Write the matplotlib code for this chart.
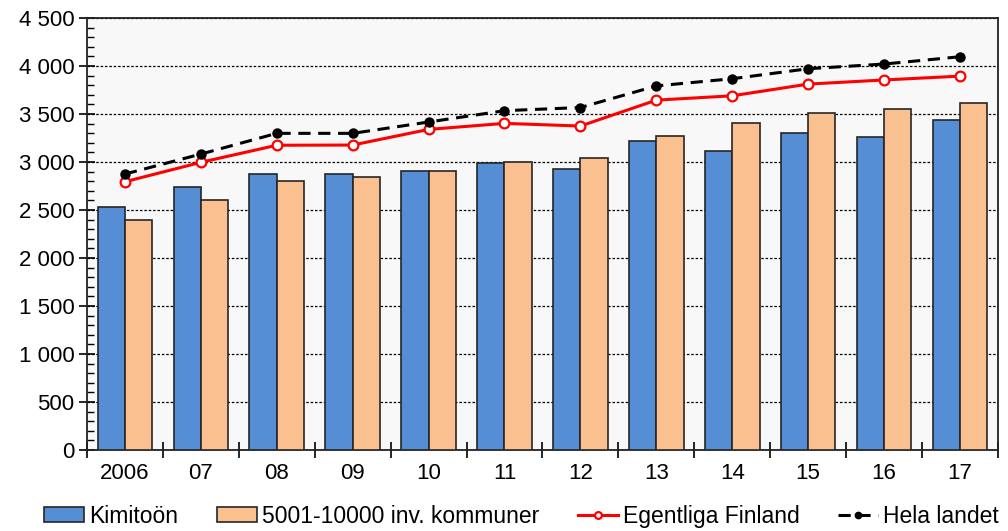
import numpy as np
import matplotlib.pyplot as plt
from matplotlib.ticker import MultipleLocator, FuncFormatter

plt.rcParams['font.family'] = ['Liberation Sans', 'DejaVu Sans']

# Data
years = ['2006', '07', '08', '09', '10', '11', '12', '13', '14', '15', '16', '17']
kimitoon = [2530, 2735, 2880, 2880, 2910, 2990, 2930, 3215, 3120, 3305, 3260, 3440]
kommuner = [2400, 2600, 2805, 2840, 2910, 3000, 3045, 3272, 3410, 3515, 3548, 3620]
egentliga = [2795, 2997, 3175, 3177, 3340, 3403, 3375, 3645, 3690, 3812, 3855, 3895]
hela = [2875, 3083, 3299, 3299, 3417, 3535, 3568, 3793, 3868, 3972, 4021, 4097]

x = np.arange(len(years))
w = 0.36

fig = plt.figure(figsize=(10.08, 5.31), dpi=100)
ax = fig.add_axes([0.0863, 0.1525, 0.9037, 0.8135])
ax.set_facecolor('#f8f8f8')

b1 = ax.bar(x - w / 2, kimitoon, w, color='#558ed5', edgecolor='#262626', linewidth=1.2,
            label='Kimitoön', zorder=3)
b2 = ax.bar(x + w / 2, kommuner, w, color='#fac090', edgecolor='#262626', linewidth=1.2,
            label='5001-10000 inv. kommuner', zorder=3)
l1, = ax.plot(x, egentliga, color='#ff0000', lw=2.2, marker='o', ms=7, mfc='white',
              mec='#ff0000', mew=1.6, label='Egentliga Finland', zorder=4)
l2, = ax.plot(x, hela, color='black', lw=2.2, ls=(0, (4, 2.5)), marker='o', ms=6.5,
              mfc='black', mec='black', label='Hela landet', zorder=5)

ax.set_xlim(-0.5, len(years) - 0.5)
ax.set_ylim(0, 4500)

# y axis
ax.yaxis.set_major_locator(MultipleLocator(500))
ax.yaxis.set_minor_locator(MultipleLocator(100))
ax.yaxis.set_major_formatter(FuncFormatter(lambda v, p: f'{int(v):,}'.replace(',', ' ')))
ax.tick_params(axis='y', which='major', direction='inout', length=12, width=1.2,
               labelsize=16, pad=3)
ax.tick_params(axis='y', which='minor', direction='in', length=5, width=1)
ax.grid(axis='y', which='major', color='black', ls=(0, (2, 1.5)), lw=0.9, zorder=1)

# x axis: ticks between categories, labels centered
ax.set_xticks(np.arange(len(years) + 1) - 0.5)
ax.set_xticklabels([])
ax.set_xticks(x, minor=True)
ax.set_xticklabels(years, minor=True)
ax.tick_params(axis='x', which='major', direction='inout', length=12, width=1.2)
ax.tick_params(axis='x', which='minor', length=0, labelsize=16, pad=9)

for s in ax.spines.values():
    s.set_color('#222222')
    s.set_linewidth(1.3)

leg = fig.legend([b1, b2, l1, l2], [h.get_label() for h in (b1, b2, l1, l2)],
                 loc='center left', bbox_to_anchor=(0.044, 0.028), ncol=4, frameon=False,
                 fontsize=16.5, handlelength=1.75, handletextpad=0.2, columnspacing=1.7,
                 handleheight=0.6, borderpad=0, borderaxespad=0, markerscale=0.7)

fig.savefig('out.png', dpi=100)
